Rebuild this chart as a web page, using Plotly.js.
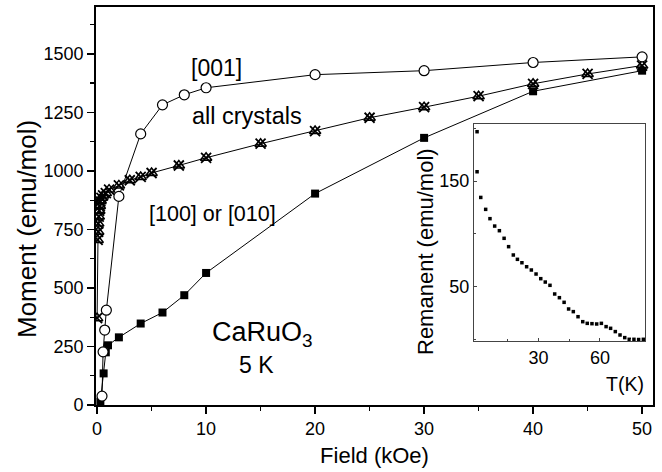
<!DOCTYPE html>
<html>
<head>
<meta charset="utf-8">
<script src="https://cdn.plot.ly/plotly-3.0.1.min.js"></script>
<style>html,body{margin:0;padding:0;background:#fff}#chart{width:662px;height:472px}</style>
</head>
<body>
<div id="chart"></div>
<script>
// [001] direction (open circles)
const field001 = [0.45, 0.55, 0.7, 0.85, 2, 4, 6, 8, 10, 20, 30, 40, 50];
const moment001 = [38, 227, 320, 405, 891, 1158, 1282, 1325, 1355, 1411, 1428, 1463, 1487];
// [100] or [010] (filled squares)
const field100 = [0.3, 0.6, 0.8, 1.0, 2, 4, 6, 8, 10, 20, 30, 40, 50];
const moment100 = [14, 135, 225, 255, 289, 348, 395, 469, 564, 903, 1141, 1340, 1428];
// all crystals (star markers)
const fieldAll = [0, 0.05, 0.1, 0.1, 0.15, 0.2, 0.25, 0.3, 0.4, 0.55, 0.8, 1.1, 2, 3, 4, 5, 7.5, 10, 15, 20, 25, 30, 35, 40, 45, 50];
const momentAll = [371, 705, 740, 775, 805, 830, 850, 870, 885, 895, 905, 920, 938, 960, 974, 991, 1023, 1056, 1116, 1170, 1227, 1272, 1319, 1372, 1414, 1450];
// inset: remanent moment vs temperature
const tempK = [0, 0, 1.8, 4.2, 6.3, 8.6, 10.9, 13.2, 15.4, 17.7, 19.7, 21.9, 24.2, 26.5, 28.8, 31.1, 33.3, 35.6, 37.9, 40.2, 42.5, 44.7, 47.0, 49.3, 51.6, 53.8, 56.1, 58.4, 60.7, 63.0, 65.2, 67.5, 69.8, 72.1, 74.3, 76.6, 78.9, 81.2];
const remanent = [196.7, 158.8, 134.5, 123.2, 114.4, 107.4, 103.0, 95.8, 87.9, 80.0, 75.9, 72.7, 68.9, 65.8, 62.0, 57.6, 54.4, 51.3, 43.1, 39.6, 35.2, 28.9, 26.4, 21.6, 16.9, 15.3, 15.0, 14.7, 15.3, 12.2, 10.6, 7.5, 4.3, 1.8, 0.2, 0.2, 0.0, 0.2];
// tick labels
const mainXTicks = [0, 10, 20, 30, 40, 50];
const mainYTicks = [0, 250, 500, 750, 1000, 1250, 1500];
const insetXTicks = [30, 60];
const insetYTicks = [50, 150];

const FONT = 'Liberation Sans, Arial, Helvetica, sans-serif';
const lineStyle = {color: '#000', width: 1};

// plot-area helpers (pixel -> paper) for text placement
const L = 96, R = 653, T = 7, B = 405;
const px = v => (v - L) / (R - L);
const py = v => (B - v) / (B - T);

const traces = [
  {x: field100, y: moment100, xaxis: 'x', yaxis: 'y', mode: 'lines+markers', name: '[100] or [010]',
   line: lineStyle, marker: {symbol: 'square', size: 8, color: '#000'}},
  {x: fieldAll, y: momentAll, xaxis: 'x', yaxis: 'y', mode: 'lines+markers', name: 'all crystals',
   line: lineStyle, marker: {symbol: 'triangle-up-open', size: 10, color: '#000', line: {width: 1.5, color: '#000'}}},
  {x: fieldAll, y: momentAll, xaxis: 'x', yaxis: 'y', mode: 'markers', name: 'all crystals (x)', showlegend: false,
   marker: {symbol: 'x-thin-open', size: 10, color: '#000', line: {width: 1.8, color: '#000'}}},
  {x: field001, y: moment001, xaxis: 'x', yaxis: 'y', mode: 'lines+markers', name: '[001]',
   line: lineStyle, marker: {symbol: 'circle', size: 10, color: '#fff', line: {width: 1.2, color: '#000'}}},
  {x: tempK, y: remanent, xaxis: 'x2', yaxis: 'y2', mode: 'markers', name: 'remanent',
   marker: {symbol: 'square', size: 3.5, color: '#000'}}
];

const ann = (text, x, y, size, extra) => Object.assign({
  text: text, xref: 'paper', yref: 'paper', x: px(x), y: py(y),
  xanchor: 'center', yanchor: 'middle', showarrow: false,
  font: {size: size, family: FONT, color: '#000'}
}, extra || {});

const layout = {
  width: 662, height: 472,
  margin: {l: L, r: 662 - R, t: T, b: 472 - B},
  paper_bgcolor: '#fff', plot_bgcolor: 'rgba(0,0,0,0)',
  showlegend: false,
  font: {family: FONT, color: '#000', size: 18},
  xaxis: {
    domain: [0, 1], range: [-0.1, 51], anchor: 'y',
    tickvals: mainXTicks, ticks: 'outside', ticklen: 7, tickwidth: 1.5, tickcolor: '#000',
    minor: {dtick: 5, tick0: 0, ticks: 'outside', ticklen: 4, tickwidth: 1.2, tickcolor: '#000'},
    showline: true, linewidth: 1.8, linecolor: '#000', mirror: true,
    showgrid: false, zeroline: false,
    tickfont: {size: 18, family: FONT},
    title: {text: 'Field (kOe)', font: {size: 22, family: FONT}, standoff: 9}
  },
  yaxis: {
    domain: [0, 1], range: [0, 1700], anchor: 'x',
    tickvals: mainYTicks, ticks: 'outside', ticklen: 7, tickwidth: 1.5, tickcolor: '#000',
    minor: {dtick: 125, tick0: 0, ticks: 'outside', ticklen: 4, tickwidth: 1.2, tickcolor: '#000'},
    showline: true, linewidth: 1.8, linecolor: '#000', mirror: true,
    showgrid: false, zeroline: false,
    tickfont: {size: 18, family: FONT}
  },
  xaxis2: {
    domain: [px(474), px(645)], range: [-1.5, 82], anchor: 'y2',
    tickvals: insetXTicks, ticks: 'inside', ticklen: 3, tickcolor: '#444',
    minor: {tickvals: [15, 45, 75], ticks: 'inside', ticklen: 2, tickcolor: '#444'},
    showline: true, linewidth: 1, linecolor: '#444', mirror: true,
    showgrid: false, zeroline: false,
    tickfont: {size: 18, family: FONT}
  },
  yaxis2: {
    domain: [py(341), py(124)], range: [-1.4, 204], anchor: 'x2',
    tickvals: insetYTicks, ticks: 'inside', ticklen: 3, tickcolor: '#444',
    minor: {tickvals: [0, 100, 200], ticks: 'inside', ticklen: 2, tickcolor: '#444'},
    showline: true, linewidth: 1, linecolor: '#444', mirror: true,
    showgrid: false, zeroline: false,
    tickfont: {size: 18, family: FONT}
  },
  annotations: [
    ann('Moment (emu/mol)', 27, 229, 26, {textangle: -90}),
    ann('[001]', 216, 68, 23),
    ann('all crystals', 247, 116, 23.5),
    ann('[100] or [010]', 212, 214, 21.5),
    ann('CaRuO<sub>3</sub>', 262, 334, 27),
    ann('5 K', 256, 365, 23),
    ann('Remanent (emu/mol)', 426, 252, 22, {textangle: -90}),
    ann('T(K)', 625, 384, 19.5)
  ]
};

Plotly.newPlot('chart', traces, layout, {staticPlot: true, displayModeBar: false});
</script>
</body>
</html>
